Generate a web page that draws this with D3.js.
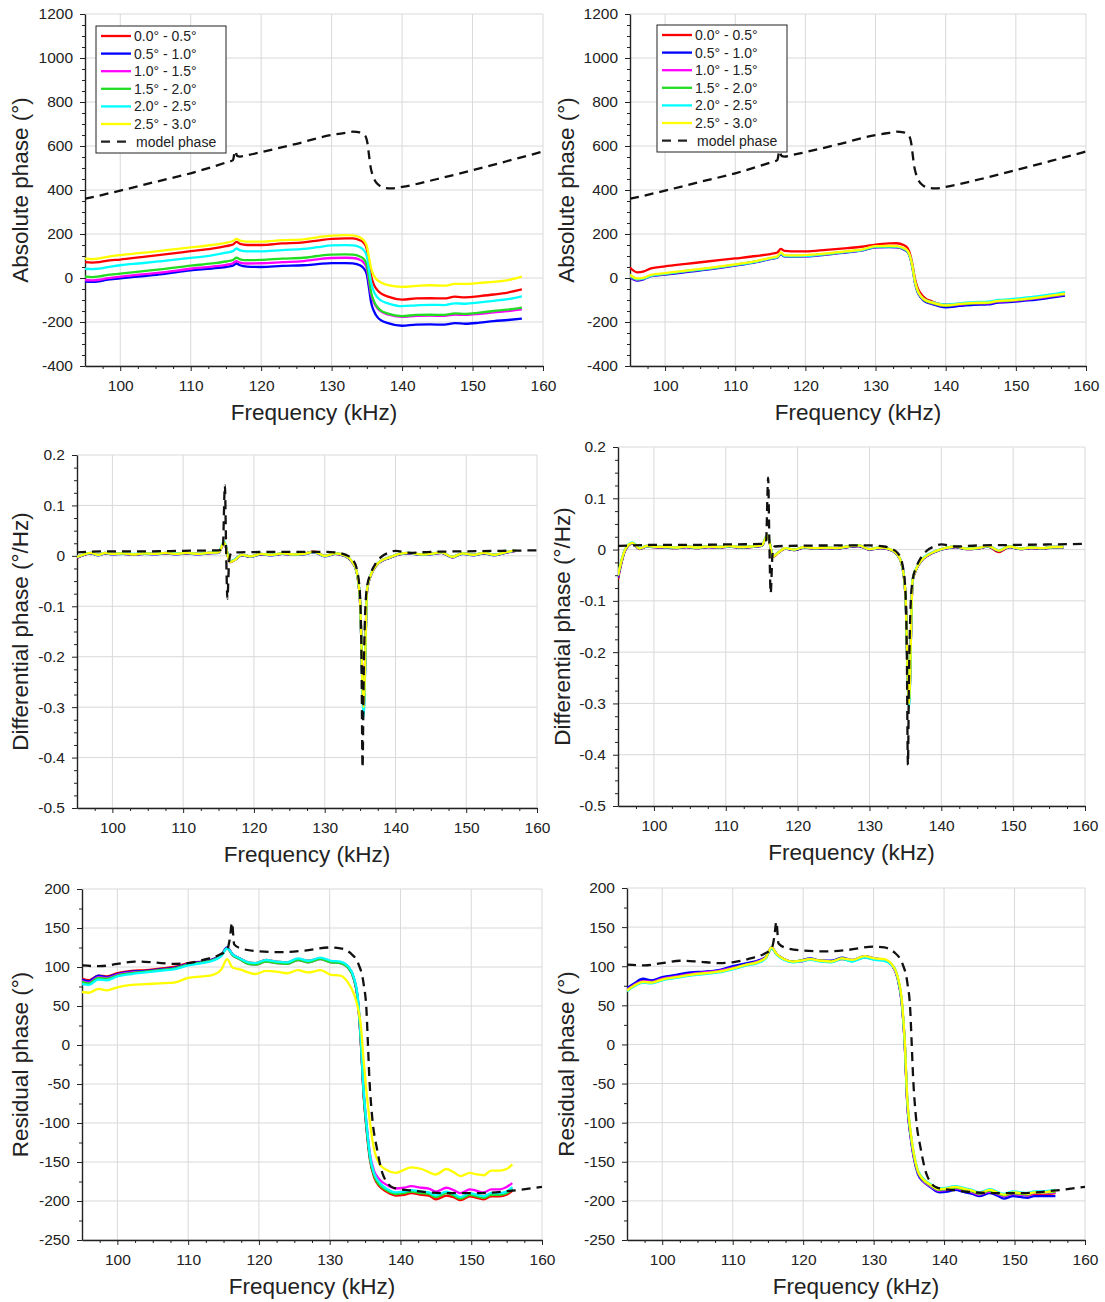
<!DOCTYPE html>
<html>
<head>
<meta charset="utf-8">
<script src="https://cdnjs.cloudflare.com/ajax/libs/d3/7.8.5/d3.min.js"></script>
<style>
  body { margin: 0; background: #fff; }
  svg text { font-family: "Liberation Sans", Arial, Helvetica, sans-serif; fill: #222; }
</style>
</head>
<body>
<svg id="fig" width="1105" height="1302"></svg>
<script>
// ---- shared labels / colours ----
const seriesNames = ["0.0° - 0.5°", "0.5° - 1.0°", "1.0° - 1.5°", "1.5° - 2.0°", "2.0° - 2.5°", "2.5° - 3.0°"];
const seriesColors = ["#ff0000", "#0000ff", "#ff00ff", "#22dd22", "#00ffff", "#ffff00"];
const modelName = "model phase";
const xTicks = [100, 110, 120, 130, 140, 150, 160];

// ---- absolute phase (top row) ----
const fA = [95, 96, 97, 98, 100, 103, 106, 110, 113, 115, 116, 116.5, 117, 118, 120, 123, 126, 128, 130, 132, 133, 134, 134.6, 135, 135.3, 135.6, 136, 136.5, 137, 138, 140, 142, 144, 146, 147.5, 149, 151, 153, 155, 157];
const fModelA = [95, 97.5, 100, 105, 110, 115, 116, 116.3, 116.6, 117, 118, 120, 125, 130, 132, 133, 134, 134.8, 135.1, 135.3, 135.5, 135.8, 136.2, 136.8, 137.5, 138.5, 140, 145, 150, 155, 160];
const modelA = [360, 378, 397, 437, 476, 525, 536, 578, 555, 552, 558, 572, 610, 650, 660, 665, 662, 645, 610, 560, 510, 470, 440, 420, 410, 407, 414, 450, 490, 532, 575];

const tlRed = [72, 70, 72, 78, 84, 95, 106, 122, 134, 145, 152, 164, 155, 150, 150, 157, 162, 170, 178, 180, 180, 172, 158, 130, 70, 10, -30, -55, -70, -85, -98, -93, -92, -93, -85, -88, -82, -75, -66, -52];
const tlBlue = [-16, -18, -15, -9, -2, 8, 18, 35, 43, 50, 56, 66, 58, 52, 50, 55, 58, 63, 68, 68, 66, 58, 42, 15, -45, -110, -150, -178, -192, -205, -217, -212, -211, -212, -205, -208, -203, -196, -191, -185];
const tlMagenta = [-9, -11, -8, -2, 6, 16, 26, 42, 52, 60, 67, 77, 70, 66, 67, 72, 77, 85, 91, 92, 91, 83, 68, 42, -15, -75, -112, -138, -152, -166, -177, -172, -171, -172, -166, -168, -163, -156, -150, -142];
const tlGreen = [6, 4, 7, 13, 20, 30, 40, 56, 66, 75, 82, 92, 85, 81, 82, 88, 92, 100, 106, 107, 106, 98, 84, 58, 0, -65, -105, -133, -148, -162, -173, -168, -167, -168, -161, -163, -157, -150, -144, -135];
const tlCyan = [42, 40, 43, 48, 58, 67, 77, 91, 103, 115, 122, 134, 126, 121, 121, 127, 132, 140, 148, 149, 148, 140, 125, 98, 40, -20, -62, -88, -102, -115, -128, -124, -122, -123, -115, -117, -111, -104, -96, -83];
const tlYellow = [88, 86, 89, 95, 104, 114, 124, 139, 150, 160, 168, 178, 170, 165, 165, 172, 176, 185, 193, 195, 194, 185, 170, 145, 95, 45, 10, -10, -20, -32, -40, -36, -33, -35, -27, -27, -22, -18, -10, 6];

const trRed = [48, 26, 30, 44, 53, 64, 75, 89, 100, 109, 116, 132, 123, 121, 121, 128, 136, 142, 152, 157, 158, 150, 135, 100, 55, 0, -45, -72, -90, -106, -121, -117, -113, -112, -104, -100, -95, -89, -80, -73];
const trBlue = [3, -12, -5, 8, 15, 27, 38, 56, 72, 86, 92, 109, 98, 97, 98, 106, 117, 124, 139, 140, 139, 130, 117, 85, 40, -20, -65, -90, -106, -118, -133, -127, -122, -120, -112, -110, -104, -98, -89, -80];
const trMagenta = [8, -8, -3, 10, 18, 30, 41, 59, 74, 88, 94, 112, 100, 99, 100, 108, 119, 126, 141, 142, 141, 132, 119, 87, 42, -16, -60, -87, -102, -114, -127, -121, -116, -115, -107, -105, -99, -92, -84, -76];
const trGreen = [10, -6, -2, 11, 19, 31, 42, 60, 75, 89, 95, 113, 101, 100, 101, 109, 120, 127, 142, 143, 142, 133, 119, 88, 43, -15, -59, -86, -101, -113, -126, -119, -115, -113, -105, -103, -97, -90, -81, -73];
const trCyan = [12, -5, -1, 11, 20, 32, 43, 60, 75, 89, 96, 113, 101, 100, 101, 110, 120, 127, 143, 144, 143, 134, 120, 88, 44, -14, -58, -84, -98, -110, -121, -115, -110, -108, -100, -97, -91, -84, -75, -64];
const trYellow = [15, -2, 2, 14, 22, 34, 45, 62, 77, 92, 98, 116, 104, 103, 104, 112, 122, 129, 145, 146, 145, 136, 122, 90, 46, -12, -57, -84, -99, -111, -124, -118, -113, -112, -104, -102, -96, -89, -80, -71];

// ---- differential phase (middle row) ----
const fB = [95, 96, 97, 98, 99, 100, 101.5, 103, 104.5, 106, 107.5, 109, 110.5, 112, 113.5, 115, 115.8, 116.6, 117.3, 118.3, 119.5, 121, 122.5, 124, 125.5, 127, 128.5, 130, 131.5, 132.8, 133.8, 134.5, 135, 135.5, 136, 136.6, 137.3, 138.2, 139.2, 140.5, 142, 143.5, 145, 146.5, 148, 149.5, 151, 152.5, 154, 155.5, 157];
const fModelB = [95, 100, 105, 110, 115, 115.6, 115.9, 116.05, 116.25, 116.5, 116.8, 118, 125, 130, 132, 133, 134, 134.6, 135, 135.2, 135.35, 135.5, 135.7, 136, 136.5, 137.2, 138, 139, 140, 142, 145, 150, 155, 160];
const modelB = [0.007, 0.009, 0.009, 0.010, 0.011, 0.013, 0.14, 0.03, -0.085, -0.01, 0.006, 0.007, 0.008, 0.008, 0.006, 0.002, -0.008, -0.03, -0.08, -0.2, -0.42, -0.25, -0.12, -0.06, -0.035, -0.015, -0.002, 0.006, 0.01, 0.006, 0.008, 0.009, 0.010, 0.011];

const mlRed = [-0.004, 0.002, 0.005, 0.002, 0.005, 0.004, 0.004, 0.003, 0.004, 0.004, 0.005, 0.004, 0.005, 0.004, 0.005, 0.007, 0.025, -0.013, -0.008, 0.001, -0.001, 0.003, 0.002, 0.004, 0.003, 0.004, 0.009, 0.000, 0.004, 0.000, -0.011, -0.031, -0.092, -0.290, -0.066, -0.036, -0.019, -0.009, -0.004, 0.003, 0.005, 0.003, 0.004, 0.006, -0.003, 0.005, 0.002, 0.005, 0.002, 0.006, 0.010];
const mlBlue = [-0.003, 0.002, 0.005, 0.001, 0.005, 0.003, 0.004, 0.002, 0.004, 0.003, 0.005, 0.003, 0.005, 0.003, 0.005, 0.006, 0.026, -0.012, -0.008, 0.001, -0.002, 0.003, 0.001, 0.004, 0.002, 0.003, 0.007, -0.001, 0.004, 0.000, -0.011, -0.031, -0.091, -0.300, -0.066, -0.036, -0.019, -0.009, -0.004, 0.003, 0.005, 0.002, 0.003, 0.006, -0.003, 0.004, 0.001, 0.005, 0.001, 0.006, 0.010];
const mlMagenta = [-0.003, 0.003, 0.006, 0.002, 0.006, 0.004, 0.005, 0.003, 0.005, 0.004, 0.006, 0.004, 0.006, 0.004, 0.006, 0.007, 0.026, -0.012, -0.007, 0.002, -0.001, 0.004, 0.002, 0.005, 0.003, 0.004, 0.008, 0.000, 0.005, 0.001, -0.010, -0.030, -0.091, -0.310, -0.066, -0.035, -0.018, -0.008, -0.003, 0.004, 0.006, 0.003, 0.004, 0.007, -0.002, 0.005, 0.002, 0.006, 0.002, 0.007, 0.011];
const mlGreen = [-0.002, 0.003, 0.006, 0.002, 0.006, 0.004, 0.005, 0.003, 0.005, 0.004, 0.006, 0.004, 0.006, 0.004, 0.006, 0.007, 0.027, -0.012, -0.007, 0.002, -0.001, 0.004, 0.002, 0.005, 0.003, 0.004, 0.008, 0.000, 0.005, 0.001, -0.010, -0.030, -0.090, -0.310, -0.065, -0.035, -0.018, -0.008, -0.003, 0.004, 0.006, 0.003, 0.004, 0.007, -0.002, 0.005, 0.002, 0.006, 0.002, 0.007, 0.011];
const mlCyan = [-0.002, 0.003, 0.006, 0.002, 0.006, 0.004, 0.005, 0.004, 0.005, 0.004, 0.006, 0.005, 0.006, 0.004, 0.006, 0.008, 0.029, -0.011, -0.007, 0.002, -0.001, 0.004, 0.002, 0.005, 0.003, 0.004, 0.008, 0.000, 0.005, 0.001, -0.010, -0.030, -0.090, -0.320, -0.064, -0.034, -0.017, -0.008, -0.003, 0.004, 0.006, 0.003, 0.004, 0.007, -0.002, 0.005, 0.002, 0.006, 0.002, 0.007, 0.011];
const mlYellow = [-0.002, 0.003, 0.006, 0.002, 0.006, 0.004, 0.005, 0.003, 0.005, 0.004, 0.006, 0.004, 0.006, 0.004, 0.006, 0.007, 0.027, -0.012, -0.008, 0.002, -0.001, 0.004, 0.002, 0.005, 0.003, 0.004, 0.008, 0.000, 0.005, 0.001, -0.010, -0.030, -0.090, -0.300, -0.065, -0.035, -0.018, -0.008, -0.003, 0.004, 0.006, 0.003, 0.004, 0.007, -0.002, 0.005, 0.002, 0.006, 0.002, 0.007, 0.011];

const mrRed = [-0.058, -0.002, 0.012, 0.001, 0.006, 0.005, 0.004, 0.003, 0.005, 0.003, 0.005, 0.004, 0.006, 0.004, 0.005, 0.007, 0.027, -0.014, -0.007, 0.002, -0.001, 0.004, 0.002, 0.003, 0.002, 0.005, 0.007, 0.000, 0.003, 0.000, -0.009, -0.029, -0.087, -0.290, -0.062, -0.036, -0.021, -0.011, -0.004, 0.002, 0.005, 0.001, 0.002, 0.006, -0.005, 0.005, 0.001, 0.003, 0.002, 0.004, 0.004];
const mrBlue = [-0.055, -0.001, 0.012, 0.001, 0.006, 0.005, 0.004, 0.003, 0.005, 0.003, 0.005, 0.004, 0.006, 0.004, 0.005, 0.007, 0.027, -0.013, -0.006, 0.002, -0.001, 0.004, 0.002, 0.003, 0.002, 0.005, 0.007, 0.000, 0.003, 0.000, -0.009, -0.029, -0.086, -0.300, -0.061, -0.036, -0.021, -0.011, -0.004, 0.002, 0.005, 0.001, 0.002, 0.006, -0.003, 0.005, 0.001, 0.003, 0.002, 0.004, 0.004];
const mrMagenta = [-0.052, 0.000, 0.013, 0.002, 0.007, 0.006, 0.005, 0.004, 0.006, 0.004, 0.006, 0.005, 0.007, 0.005, 0.006, 0.008, 0.028, -0.013, -0.006, 0.003, 0.000, 0.005, 0.003, 0.004, 0.003, 0.006, 0.008, 0.001, 0.004, 0.001, -0.008, -0.028, -0.085, -0.305, -0.060, -0.035, -0.020, -0.010, -0.003, 0.003, 0.006, 0.002, 0.003, 0.007, -0.002, 0.006, 0.002, 0.004, 0.003, 0.005, 0.005];
const mrGreen = [-0.051, 0.000, 0.013, 0.002, 0.007, 0.006, 0.005, 0.004, 0.006, 0.004, 0.006, 0.005, 0.007, 0.005, 0.006, 0.008, 0.028, -0.013, -0.006, 0.003, 0.000, 0.005, 0.003, 0.004, 0.003, 0.006, 0.008, 0.001, 0.004, 0.001, -0.008, -0.028, -0.085, -0.305, -0.060, -0.035, -0.020, -0.010, -0.003, 0.003, 0.006, 0.002, 0.003, 0.007, -0.002, 0.006, 0.002, 0.004, 0.003, 0.005, 0.005];
const mrCyan = [-0.050, 0.001, 0.014, 0.003, 0.007, 0.006, 0.005, 0.004, 0.006, 0.004, 0.006, 0.005, 0.007, 0.005, 0.006, 0.008, 0.029, -0.012, -0.006, 0.003, 0.000, 0.005, 0.003, 0.004, 0.003, 0.006, 0.008, 0.001, 0.004, 0.001, -0.008, -0.028, -0.085, -0.310, -0.059, -0.034, -0.019, -0.009, -0.003, 0.003, 0.006, 0.002, 0.003, 0.007, -0.001, 0.006, 0.002, 0.004, 0.003, 0.005, 0.005];
const mrYellow = [-0.050, 0.000, 0.013, 0.002, 0.007, 0.006, 0.005, 0.004, 0.006, 0.004, 0.006, 0.005, 0.007, 0.005, 0.006, 0.008, 0.028, -0.013, -0.006, 0.003, 0.000, 0.005, 0.003, 0.004, 0.003, 0.006, 0.008, 0.001, 0.004, 0.001, -0.008, -0.028, -0.085, -0.300, -0.060, -0.035, -0.020, -0.010, -0.003, 0.003, 0.006, 0.002, 0.003, 0.007, -0.002, 0.006, 0.002, 0.004, 0.003, 0.005, 0.005];

// ---- residual phase (bottom row) ----
const fC = [95, 96, 97.3, 98.5, 100, 102, 104, 106, 108, 110, 112, 113.5, 114.7, 115.5, 116.3, 117.3, 118.5, 119.5, 121, 122.5, 124, 125.5, 127, 128.7, 130.2, 131.5, 132.6, 133.4, 134, 134.4, 134.8, 135.2, 135.7, 136.3, 137, 138, 139.3, 140.5, 141.5, 143, 144, 145, 146.5, 147.5, 148.5, 149.8, 150.8, 151.8, 152.8, 154, 155, 155.8];
const fModelC = [95, 97.5, 100, 102.5, 105, 108, 110, 112.5, 114.5, 115.5, 115.9, 116.2, 116.5, 117.4, 120, 123, 126.5, 130, 131.5, 132.9, 134.1, 134.8, 135.2, 135.4, 135.6, 136, 136.7, 137.6, 139, 142, 146.5, 151, 155.5, 160];
const modelC = [102, 101, 104, 107, 106, 104, 105, 110, 116, 122, 137, 157, 129, 124, 120, 119, 121, 125, 124, 118, 103, 78, 44, 2, -41, -92, -134, -168, -183, -187, -190, -190, -187, -182];

const blRed = [85, 83, 89, 88, 92, 95, 96, 98, 100, 105, 107, 110, 116, 124, 116, 111, 106, 105, 109, 107, 106, 110, 108, 111, 107, 106, 100, 85, 55, 3, -65, -108, -148, -170, -181, -188, -193, -192, -190, -192, -193, -198, -193, -195, -199, -194, -196, -198, -194, -194, -192, -187];
const blBlue = [84, 82, 89, 87, 91, 94, 95, 97, 99, 104, 107, 110, 116, 125, 116, 111, 105, 104, 108, 106, 105, 110, 107, 111, 107, 106, 100, 86, 56, 5, -62, -105, -145, -167, -178, -185, -190, -189, -187, -189, -190, -194, -189, -192, -196, -191, -193, -195, -191, -191, -189, -184];
const blMagenta = [82, 80, 87, 86, 90, 93, 94, 96, 98, 103, 106, 109, 115, 124, 115, 110, 104, 103, 107, 105, 104, 109, 106, 110, 106, 105, 99, 85, 57, 6, -60, -100, -140, -162, -172, -179, -184, -183, -181, -183, -184, -188, -183, -186, -190, -185, -187, -189, -185, -185, -182, -177];
const blGreen = [81, 79, 86, 85, 89, 92, 94, 96, 98, 103, 106, 109, 115, 124, 115, 110, 104, 103, 107, 105, 104, 109, 106, 110, 106, 105, 99, 85, 56, 4, -63, -105, -146, -168, -179, -186, -191, -190, -188, -190, -191, -195, -190, -193, -197, -192, -194, -196, -192, -192, -190, -185];
const blCyan = [78, 77, 84, 83, 88, 91, 93, 95, 97, 102, 105, 108, 114, 124, 116, 111, 106, 105, 109, 107, 106, 111, 108, 112, 108, 107, 101, 87, 59, 8, -58, -100, -142, -165, -176, -184, -189, -188, -186, -188, -189, -193, -188, -191, -195, -190, -192, -194, -190, -190, -188, -182];
const blYellow = [68, 67, 72, 70, 74, 77, 78, 79, 80, 86, 88, 90, 97, 110, 99, 97, 93, 91, 95, 94, 92, 96, 93, 96, 90, 89, 80, 66, 47, 25, -20, -60, -100, -135, -152, -160, -164, -160, -157, -159, -163, -166, -159, -163, -168, -164, -166, -167, -161, -161, -159, -153];

const brRed = [70, 76, 82, 81, 85, 88, 91, 92, 94, 99, 103, 106, 111, 123, 115, 109, 106, 106, 109, 107, 106, 109, 107, 111, 109, 108, 101, 85, 53, 4, -78, -113, -143, -164, -174, -181, -187, -186, -184, -187, -189, -192, -188, -191, -194, -191, -192, -193, -191, -191, -191, -190];
const brBlue = [72, 78, 84, 82, 86, 89, 92, 93, 95, 100, 104, 107, 112, 124, 115, 109, 106, 107, 110, 107, 107, 111, 108, 113, 110, 108, 101, 85, 52, 3, -80, -115, -145, -166, -175, -182, -189, -188, -186, -189, -191, -194, -190, -193, -197, -194, -195, -196, -194, -194, -194, -194];
const brMagenta = [70, 76, 81, 80, 84, 87, 90, 92, 94, 98, 102, 106, 111, 123, 115, 109, 106, 106, 109, 107, 106, 110, 107, 112, 109, 108, 101, 85, 53, 4, -78, -113, -143, -164, -174, -181, -187, -186, -184, -187, -189, -192, -188, -191, -194, -191, -192, -193, -190, -190, -190, -189];
const brGreen = [69, 75, 80, 79, 83, 86, 89, 91, 93, 97, 102, 105, 111, 123, 115, 109, 106, 107, 109, 107, 106, 110, 107, 112, 109, 108, 102, 86, 54, 5, -76, -111, -141, -163, -173, -180, -186, -185, -183, -186, -188, -191, -187, -190, -193, -190, -191, -192, -189, -189, -189, -188];
const brCyan = [68, 74, 79, 78, 82, 85, 88, 90, 92, 96, 101, 104, 110, 123, 114, 108, 105, 106, 108, 106, 105, 109, 106, 111, 108, 107, 101, 86, 55, 6, -74, -109, -139, -161, -171, -178, -184, -183, -181, -184, -186, -189, -185, -188, -191, -188, -189, -190, -188, -188, -187, -186];
const brYellow = [69, 75, 80, 79, 83, 86, 89, 91, 93, 97, 102, 105, 111, 124, 115, 109, 106, 107, 109, 107, 106, 110, 108, 113, 110, 109, 102, 87, 57, 8, -72, -108, -139, -162, -172, -179, -185, -184, -182, -185, -187, -190, -186, -189, -192, -189, -190, -191, -189, -189, -188, -187];

// ---- panel layout ----
const panels = [
  { left: 85, right: 543, top: 14, bottom: 366, yDomain: [-400, 1200], yMajor: d3.range(-400, 1201, 200), yMinorStep: 50,
    yTitle: "Absolute phase (°)", yTitleX: 20, freq: fA, series: [tlRed, tlBlue, tlMagenta, tlGreen, tlCyan, tlYellow],
    modelF: fModelA, model: modelA, legend: [96, 26] },
  { left: 630, right: 1086, top: 14, bottom: 366, yDomain: [-400, 1200], yMajor: d3.range(-400, 1201, 200), yMinorStep: 50,
    yTitle: "Absolute phase (°)", yTitleX: 566, freq: fA, series: [trRed, trBlue, trMagenta, trGreen, trCyan, trYellow],
    modelF: fModelA, model: modelA, legend: [657, 25] },
  { left: 77, right: 537, top: 455, bottom: 808, yDomain: [-0.5, 0.2], yMajor: [-0.5, -0.4, -0.3, -0.2, -0.1, 0, 0.1, 0.2], yMinorStep: 0.025,
    yTitle: "Differential phase (°/Hz)", yTitleX: 20, freq: fB, series: [mlRed, mlBlue, mlMagenta, mlGreen, mlCyan, mlYellow],
    modelF: fModelB, model: modelB },
  { left: 618, right: 1085, top: 447, bottom: 806, yDomain: [-0.5, 0.2], yMajor: [-0.5, -0.4, -0.3, -0.2, -0.1, 0, 0.1, 0.2], yMinorStep: 0.025,
    yTitle: "Differential phase (°/Hz)", yTitleX: 562, freq: fB, series: [mrRed, mrBlue, mrMagenta, mrGreen, mrCyan, mrYellow],
    modelF: fModelB, model: modelB },
  { left: 82, right: 542, top: 889, bottom: 1240, yDomain: [-250, 200], yMajor: d3.range(-250, 201, 50), yMinorStep: 25,
    yTitle: "Residual phase (°)", yTitleX: 20, freq: fC, series: [blRed, blBlue, blMagenta, blGreen, blCyan, blYellow],
    modelF: fModelC, model: modelC },
  { left: 627, right: 1085, top: 888, bottom: 1240, yDomain: [-250, 200], yMajor: d3.range(-250, 201, 50), yMinorStep: 25,
    yTitle: "Residual phase (°)", yTitleX: 566, freq: fC, series: [brRed, brBlue, brMagenta, brGreen, brCyan, brYellow],
    modelF: fModelC, model: modelC }
];

const svg = d3.select("#fig");
const fmt = d => String(Math.round(d * 1000) / 1000);

panels.forEach(function (p, i) {
  const x = d3.scaleLinear().domain([95, 160]).range([p.left, p.right]);
  const y = d3.scaleLinear().domain(p.yDomain).range([p.bottom, p.top]);
  const g = svg.append("g");

  // grid
  g.append("g").selectAll("line").data(xTicks).join("line")
    .attr("x1", d => x(d)).attr("x2", d => x(d))
    .attr("y1", p.top).attr("y2", p.bottom)
    .attr("stroke", "#d9d9d9").attr("stroke-width", 1);
  g.append("g").selectAll("line").data(p.yMajor).join("line")
    .attr("x1", p.left).attr("x2", p.right)
    .attr("y1", d => y(d)).attr("y2", d => y(d))
    .attr("stroke", "#d9d9d9").attr("stroke-width", 1);

  // minor ticks
  const xMinor = d3.range(97.5, 160, 2.5).filter(v => v % 10 !== 0);
  const yMinor = d3.range(p.yDomain[0], p.yDomain[1] + 1e-9, p.yMinorStep)
    .filter(v => !p.yMajor.some(m => Math.abs(m - v) < 1e-9));
  g.append("g").attr("transform", `translate(0,${p.bottom})`)
    .call(d3.axisBottom(x).tickValues(xMinor).tickSize(3).tickFormat(""))
    .call(a => a.select(".domain").remove());
  g.append("g").attr("transform", `translate(${p.left},0)`)
    .call(d3.axisLeft(y).tickValues(yMinor).tickSize(3).tickFormat(""))
    .call(a => a.select(".domain").remove());

  // major axes
  const xa = g.append("g").attr("transform", `translate(0,${p.bottom})`)
    .call(d3.axisBottom(x).tickValues(xTicks).tickSize(5).tickSizeOuter(0).tickPadding(9).tickFormat(d3.format("d")));
  const ya = g.append("g").attr("transform", `translate(${p.left},0)`)
    .call(d3.axisLeft(y).tickValues(p.yMajor).tickSize(5).tickSizeOuter(0).tickPadding(7).tickFormat(fmt));
  [xa, ya].forEach(a => {
    a.selectAll("text").attr("font-size", 15.5).attr("fill", "#222");
    a.select(".domain").attr("stroke", "#222").attr("stroke-width", 1.4);
  });
  g.selectAll(".tick line").attr("stroke", "#222");

  // titles
  g.append("text")
    .attr("x", (p.left + p.right) / 2).attr("y", p.bottom + 54)
    .attr("text-anchor", "middle").attr("font-size", 22.5)
    .text("Frequency (kHz)");
  g.append("text")
    .attr("transform", `translate(${p.yTitleX},${(p.top + p.bottom) / 2}) rotate(-90)`)
    .attr("text-anchor", "middle").attr("dominant-baseline", "central").attr("font-size", 22.5)
    .text(p.yTitle);

  // clip
  const clipId = "clip" + i;
  svg.append("clipPath").attr("id", clipId).append("rect")
    .attr("x", p.left).attr("y", p.top).attr("width", p.right - p.left).attr("height", p.bottom - p.top);

  const plot = g.append("g").attr("clip-path", `url(#${clipId})`);
  const line = d3.line().x(d => x(d[0])).y(d => y(d[1])).curve(d3.curveMonotoneX);

  p.series.forEach(function (vals, k) {
    plot.append("path")
      .datum(p.freq.map((f, j) => [f, vals[j]]))
      .attr("d", line)
      .attr("fill", "none")
      .attr("stroke", seriesColors[k])
      .attr("stroke-width", 2.3)
      .attr("stroke-linejoin", "round");
  });

  plot.append("path")
    .datum(p.modelF.map((f, j) => [f, p.model[j]]))
    .attr("d", line)
    .attr("fill", "none")
    .attr("stroke", "#111")
    .attr("stroke-width", 2.3)
    .attr("stroke-dasharray", "9,6");

  // legend
  if (p.legend) {
    const lg = g.append("g").attr("transform", `translate(${p.legend[0]},${p.legend[1]})`);
    lg.append("rect").attr("width", 130).attr("height", 127)
      .attr("fill", "#fff").attr("stroke", "#222").attr("stroke-width", 1);
    const rows = seriesNames.concat([modelName]);
    rows.forEach(function (name, k) {
      const ry = 10 + k * 17.6;
      lg.append("line").attr("x1", 5).attr("x2", 35).attr("y1", ry).attr("y2", ry)
        .attr("stroke", k < 6 ? seriesColors[k] : "#222").attr("stroke-width", 2.3)
        .attr("stroke-dasharray", k < 6 ? null : "9,7");
      lg.append("text").attr("x", k < 6 ? 38 : 40).attr("y", ry)
        .attr("dominant-baseline", "central").attr("font-size", 14)
        .text(name);
    });
  }
});
</script>
</body>
</html>
